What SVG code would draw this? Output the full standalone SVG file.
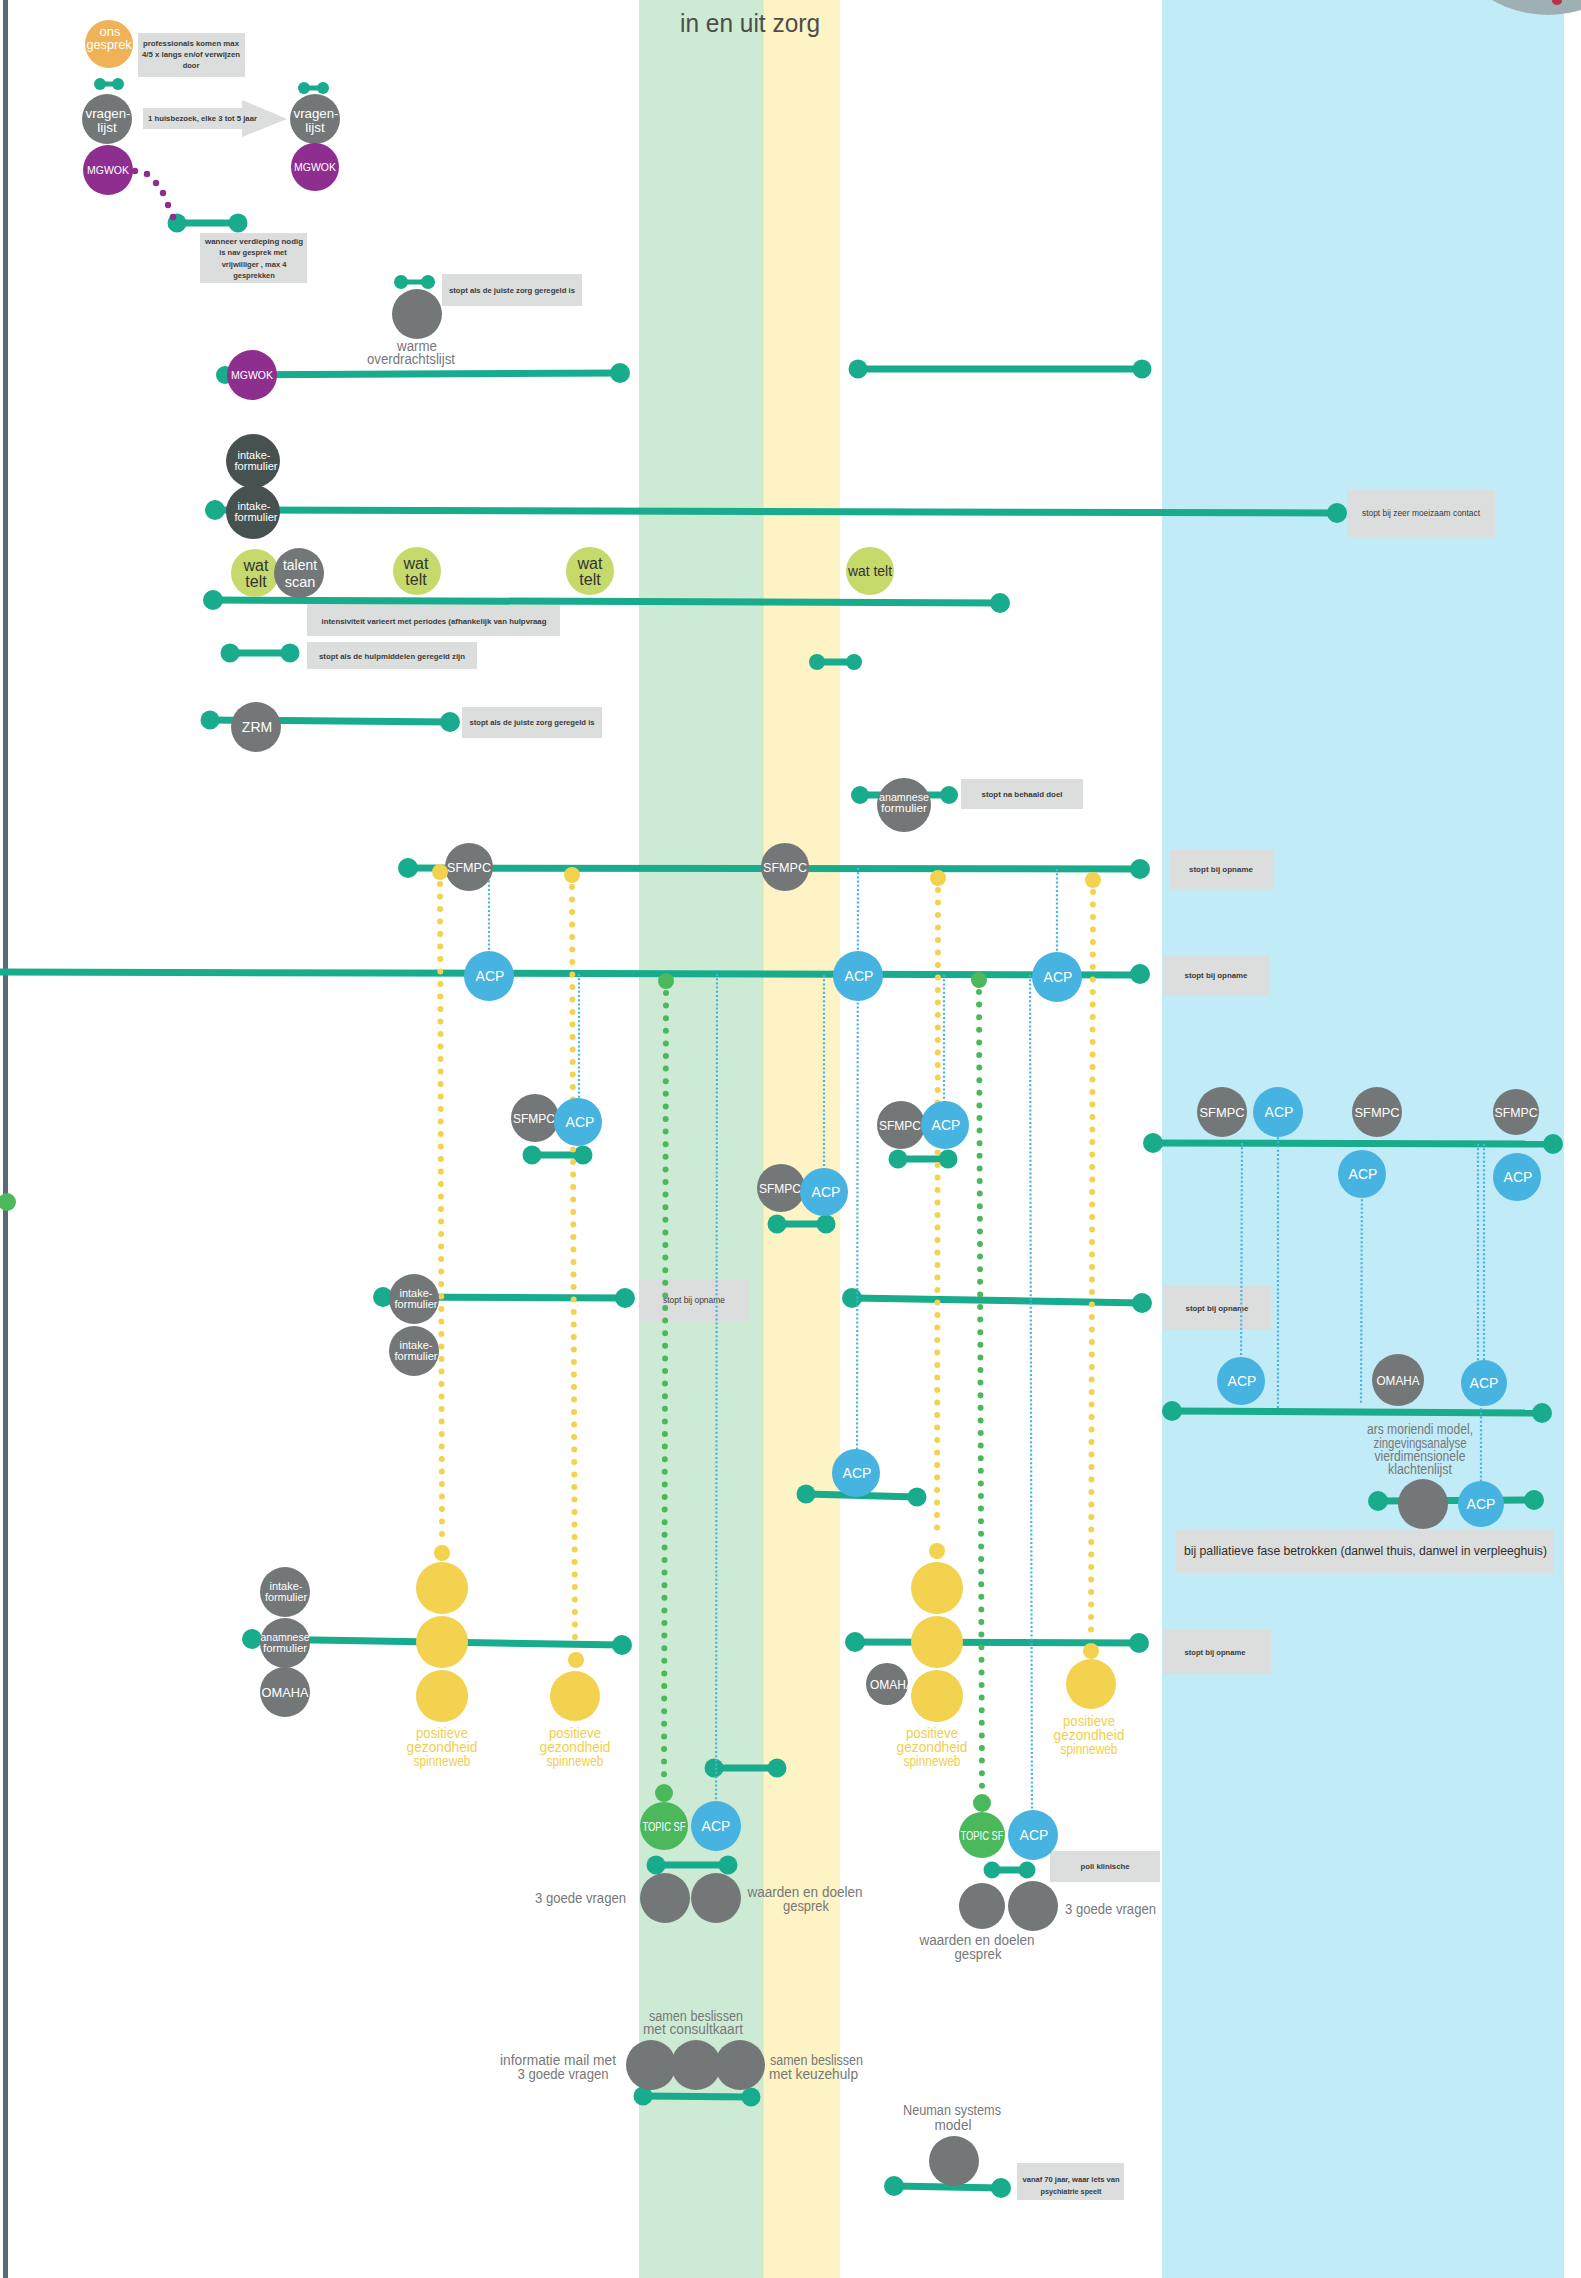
<svg xmlns="http://www.w3.org/2000/svg" width="1581" height="2278" viewBox="0 0 1581 2278">
<defs>
<style>
text{font-family:"Liberation Sans",Arial,sans-serif}
.w{fill:#fff;text-anchor:middle}
.bx{fill:#dcdddd}
.bt{fill:#3a3a3a;font-size:7.5px;font-weight:bold;text-anchor:middle}
.ot{fill:#3a3a3a;font-size:8.5px;text-anchor:middle}
.gl{fill:#767879;font-size:14px}
.yl{fill:#f2cf4a;font-size:14px;text-anchor:middle}
.g{fill:#737778}
.dk{fill:#475250}
.pu{fill:#8e2e8f}
.or{fill:#efb257}
.li{fill:#c6d96b}
.bl{fill:#47b3e0}
.gr{fill:#4cb85c}
.ye{fill:#f2d24f}
.tl{stroke:#18ab8c;stroke-width:7;fill:none}
.ts{stroke:#18ab8c;stroke-width:5;fill:none}
.td{fill:#18ab8c}
.yd{stroke:#f2d24f;stroke-width:6;stroke-linecap:round;stroke-dasharray:0 12.5;fill:none}
.gd{stroke:#4cb85c;stroke-width:6;stroke-linecap:round;stroke-dasharray:0 12.6;fill:none}
.bd{stroke:#47b3e0;stroke-width:2.2;stroke-dasharray:2 2.2;fill:none}
.sf{font-size:13px}
.ac{font-size:14px}
.it{font-size:11px}
</style>
</defs>
<!-- background -->
<rect x="0" y="0" width="1581" height="2278" fill="#fff"/>
<rect x="639" y="0" width="124" height="2278" fill="#cdebd4"/>
<rect x="763" y="0" width="77" height="2278" fill="#fdf3c5"/>
<line x1="763" y1="0" x2="763" y2="2278" stroke="#d6e6b8" stroke-width="1"/>
<rect x="1162" y="0" width="402" height="2278" fill="#c2ebf8"/>
<circle cx="1548" cy="-97" r="112" fill="#9fb0b5"/>
<ellipse cx="1557" cy="1" rx="5" ry="4" fill="#b8324a"/>
<rect x="3" y="0" width="5" height="2278" fill="#5a6a76"/>
<text x="750" y="32" font-size="26" fill="#4d4d4d" text-anchor="middle" textLength="140" lengthAdjust="spacingAndGlyphs">in en uit zorg</text>

<!-- annotation boxes -->
<g id="box-professionals">
<rect class="bx" x="138" y="33" width="107" height="44"/>
<text class="bt" x="191" y="46" textLength="96" lengthAdjust="spacingAndGlyphs">professionals komen max</text>
<text class="bt" x="191" y="57" textLength="98" lengthAdjust="spacingAndGlyphs">4/5 x langs en/of verwijzen</text>
<text class="bt" x="191" y="68">door</text>
</g>
<g id="arrow-huisbezoek">
<polygon class="bx" points="143,108 242,108 242,100 287,119 242,137 242,129 143,129"/>
<text class="bt" x="148" y="121" style="text-anchor:start" textLength="109" lengthAdjust="spacingAndGlyphs">1 huisbezoek, elke 3 tot 5 jaar</text>
</g>
<g id="box-verdieping">
<rect class="bx" x="200" y="233" width="107" height="50"/>
<text class="bt" x="254" y="244" textLength="98" lengthAdjust="spacingAndGlyphs">wanneer verdieping nodig</text>
<text class="bt" x="253" y="255">is nav gesprek met</text>
<text class="bt" x="254" y="267">vrijwilliger , max 4</text>
<text class="bt" x="254" y="278">gesprekken</text>
</g>
<g id="box-warme">
<rect class="bx" x="442" y="274" width="140" height="32"/>
<text class="bt" x="512" y="293" textLength="126" lengthAdjust="spacingAndGlyphs">stopt als de juiste zorg geregeld is</text>
</g>
<g id="box-moeizaam">
<rect class="bx" x="1347" y="490" width="148" height="47"/>
<text class="ot" x="1421" y="516" textLength="118" lengthAdjust="spacingAndGlyphs">stopt bij zeer moeizaam contact</text>
</g>
<g id="box-intensiviteit">
<rect class="bx" x="307" y="604" width="253" height="32"/>
<text class="bt" x="434" y="624" textLength="225" lengthAdjust="spacingAndGlyphs">intensiviteit varieert met periodes (afhankelijk van hulpvraag</text>
</g>
<g id="box-hulpmiddelen">
<rect class="bx" x="307" y="642" width="170" height="27"/>
<text class="bt" x="392" y="659" textLength="146" lengthAdjust="spacingAndGlyphs">stopt als de hulpmiddelen geregeld zijn</text>
</g>
<g id="box-zrm">
<rect class="bx" x="462" y="707" width="140" height="31"/>
<text class="bt" x="532" y="725" textLength="125" lengthAdjust="spacingAndGlyphs">stopt als de juiste zorg geregeld is</text>
</g>
<g id="box-doel">
<rect class="bx" x="961" y="779" width="122" height="30"/>
<text class="bt" x="1022" y="797" textLength="81" lengthAdjust="spacingAndGlyphs">stopt na behaald doel</text>
</g>
<g id="box-opname-1">
<rect class="bx" x="1170" y="850" width="104" height="39"/>
<text class="bt" x="1221" y="872" textLength="64" lengthAdjust="spacingAndGlyphs">stopt bij opname</text>
</g>
<g id="box-opname-2">
<rect class="bx" x="1163" y="955" width="107" height="40"/>
<text class="bt" x="1216" y="978" textLength="63" lengthAdjust="spacingAndGlyphs">stopt bij opname</text>
</g>
<g id="box-opname-3">
<rect class="bx" x="639" y="1279" width="110" height="42"/>
<text class="ot" x="663" y="1303" style="text-anchor:start" textLength="62" lengthAdjust="spacingAndGlyphs">stopt bij opname</text>
</g>
<g id="box-opname-4">
<rect class="bx" x="1163" y="1286" width="108" height="44"/>
<text class="bt" x="1217" y="1311" textLength="63" lengthAdjust="spacingAndGlyphs">stopt bij opname</text>
</g>
<g id="box-palliatief">
<rect class="bx" x="1176" y="1530" width="377" height="43"/>
<text x="1184" y="1555" font-size="12.5" fill="#2e2e2e" textLength="363" lengthAdjust="spacingAndGlyphs">bij palliatieve fase betrokken (danwel thuis, danwel in verpleeghuis)</text>
</g>
<g id="box-opname-5">
<rect class="bx" x="1163" y="1630" width="108" height="44"/>
<text class="bt" x="1215" y="1655" textLength="61" lengthAdjust="spacingAndGlyphs">stopt bij opname</text>
</g>
<g id="box-poli">
<rect class="bx" x="1050" y="1851" width="110" height="31"/>
<text class="bt" x="1105" y="1869" textLength="49" lengthAdjust="spacingAndGlyphs">poli klinische</text>
</g>
<g id="box-70jaar">
<rect class="bx" x="1017" y="2163" width="107" height="37"/>
<text class="bt" x="1071" y="2182" textLength="97" lengthAdjust="spacingAndGlyphs">vanaf 70 jaar, waar iets van</text>
<text class="bt" x="1071" y="2194" textLength="61" lengthAdjust="spacingAndGlyphs">psychiatrie speelt</text>
</g>

<!-- connectors -->
<g id="connectors">
<line class="ts" x1="100" y1="84" x2="118" y2="84"/><circle class="td" cx="100" cy="84" r="6"/><circle class="td" cx="118" cy="84" r="6"/>
<line class="ts" x1="304" y1="88" x2="323" y2="88"/><circle class="td" cx="304" cy="88" r="6"/><circle class="td" cx="323" cy="88" r="6"/>
<line class="tl" x1="177" y1="223" x2="238" y2="223"/><circle class="td" cx="177" cy="223" r="9.5"/><circle class="td" cx="238" cy="223" r="9.5"/>
<line class="ts" x1="401" y1="282" x2="428" y2="282"/><circle class="td" cx="401" cy="282" r="7"/><circle class="td" cx="428" cy="282" r="7"/>
<line class="tl" x1="225" y1="375" x2="620" y2="373"/><circle class="td" cx="225" cy="375" r="9"/><circle class="td" cx="620" cy="373" r="10"/>
<line class="tl" x1="858" y1="369" x2="1142" y2="369"/><circle class="td" cx="858" cy="369" r="9.5"/><circle class="td" cx="1142" cy="369" r="9.5"/>
<line class="tl" x1="215" y1="510" x2="1337" y2="513"/><circle class="td" cx="215" cy="510" r="10"/><circle class="td" cx="1337" cy="513" r="10"/>
<line class="tl" x1="213" y1="600" x2="1000" y2="603"/><circle class="td" cx="213" cy="600" r="10"/><circle class="td" cx="1000" cy="603" r="10"/>
<line class="tl" x1="230" y1="653" x2="290" y2="653"/><circle class="td" cx="230" cy="653" r="9.5"/><circle class="td" cx="290" cy="653" r="9.5"/>
<line class="tl" x1="817" y1="662" x2="854" y2="662"/><circle class="td" cx="817" cy="662" r="8"/><circle class="td" cx="854" cy="662" r="8"/>
<line class="tl" x1="210" y1="720" x2="450" y2="722"/><circle class="td" cx="210" cy="720" r="9.5"/><circle class="td" cx="450" cy="722" r="10"/>
<line class="tl" x1="860" y1="795" x2="949" y2="795"/><circle class="td" cx="860" cy="795" r="9"/><circle class="td" cx="949" cy="795" r="9"/>
<line class="tl" x1="408" y1="868" x2="1140" y2="869"/><circle class="td" cx="408" cy="868" r="10"/><circle class="td" cx="1140" cy="869" r="10"/>
<line class="tl" x1="0" y1="972" x2="1140" y2="975"/><circle class="td" cx="1140" cy="974" r="10"/>
<line class="tl" x1="1153" y1="1143" x2="1553" y2="1144"/><circle class="td" cx="1153" cy="1143" r="10"/><circle class="td" cx="1553" cy="1144" r="10"/>
<line class="tl" x1="532" y1="1155" x2="583" y2="1155"/><circle class="td" cx="532" cy="1155" r="9.5"/><circle class="td" cx="583" cy="1155" r="9.5"/>
<line class="tl" x1="777" y1="1224" x2="826" y2="1224"/><circle class="td" cx="777" cy="1224" r="9.5"/><circle class="td" cx="826" cy="1224" r="9.5"/>
<line class="tl" x1="898" y1="1159" x2="948" y2="1159"/><circle class="td" cx="898" cy="1159" r="9.5"/><circle class="td" cx="948" cy="1159" r="9.5"/>
<line class="tl" x1="383" y1="1297" x2="625" y2="1298"/><circle class="td" cx="383" cy="1297" r="10"/><circle class="td" cx="625" cy="1298" r="10"/>
<line class="tl" x1="852" y1="1298" x2="1142" y2="1303"/><circle class="td" cx="852" cy="1298" r="10"/><circle class="td" cx="1142" cy="1303" r="10"/>
<line class="tl" x1="1172" y1="1411" x2="1542" y2="1413"/><circle class="td" cx="1172" cy="1411" r="10"/><circle class="td" cx="1542" cy="1413" r="10"/>
<line class="tl" x1="806" y1="1494" x2="917" y2="1497"/><circle class="td" cx="806" cy="1494" r="9.5"/><circle class="td" cx="917" cy="1497" r="9.5"/>
<line class="tl" x1="1378" y1="1501" x2="1534" y2="1500"/><circle class="td" cx="1378" cy="1501" r="10"/><circle class="td" cx="1534" cy="1500" r="10"/>
<line class="tl" x1="252" y1="1639" x2="622" y2="1645"/><circle class="td" cx="252" cy="1639" r="10"/><circle class="td" cx="622" cy="1645" r="10"/>
<line class="tl" x1="855" y1="1642" x2="1139" y2="1643"/><circle class="td" cx="855" cy="1642" r="10"/><circle class="td" cx="1139" cy="1643" r="10"/>
<line class="tl" x1="714" y1="1768" x2="777" y2="1768"/><circle class="td" cx="714" cy="1768" r="9.5"/><circle class="td" cx="777" cy="1768" r="9.5"/>
<line class="tl" x1="656" y1="1865" x2="728" y2="1865"/><circle class="td" cx="656" cy="1865" r="9.5"/><circle class="td" cx="728" cy="1865" r="9.5"/>
<line class="tl" x1="992" y1="1870" x2="1027" y2="1870"/><circle class="td" cx="992" cy="1870" r="8.5"/><circle class="td" cx="1027" cy="1870" r="8.5"/>
<line class="tl" x1="643" y1="2096" x2="751" y2="2097"/><circle class="td" cx="643" cy="2096" r="9.5"/><circle class="td" cx="751" cy="2097" r="9.5"/>
<line class="tl" x1="894" y1="2186" x2="1001" y2="2188"/><circle class="td" cx="894" cy="2186" r="10"/><circle class="td" cx="1001" cy="2188" r="10"/>
<!-- blue dotted links -->
<line class="bd" x1="489" y1="868" x2="489" y2="976"/>
<line class="bd" x1="858" y1="868" x2="857" y2="1473"/>
<line class="bd" x1="1057" y1="869" x2="1057" y2="977"/>
<line class="bd" x1="579" y1="974" x2="579" y2="1122"/>
<line class="bd" x1="717" y1="974" x2="716" y2="1826"/>
<line class="bd" x1="824" y1="975" x2="824" y2="1192"/>
<line class="bd" x1="944" y1="975" x2="944" y2="1125"/>
<line class="bd" x1="1030" y1="975" x2="1032" y2="1835"/>
<line class="bd" x1="1242" y1="1143" x2="1241" y2="1381"/>
<line class="bd" x1="1278" y1="1112" x2="1278" y2="1408"/>
<line class="bd" x1="1362" y1="1174" x2="1361" y2="1404"/>
<line class="bd" x1="1478" y1="1144" x2="1478" y2="1383"/>
<line class="bd" x1="1484" y1="1144" x2="1484" y2="1383"/>
<line class="bd" x1="1481" y1="1383" x2="1481" y2="1504"/>
<!-- yellow / green dotted tracks -->
<line class="yd" x1="440" y1="884" x2="442" y2="1541"/>
<line class="yd" x1="572" y1="887" x2="575" y2="1647"/>
<line class="yd" x1="938" y1="890" x2="937" y2="1539"/>
<line class="yd" x1="1093" y1="892" x2="1091" y2="1638"/>
<line class="gd" x1="666" y1="993" x2="664" y2="1781"/>
<line class="gd" x1="979" y1="992" x2="982" y2="1791"/>
<!-- purple dots -->
<g class="pu"><circle cx="135" cy="171" r="3.2"/><circle cx="147" cy="174" r="3.2"/><circle cx="156" cy="183" r="3.2"/><circle cx="163" cy="193" r="3.2"/><circle cx="168" cy="205" r="3.2"/><circle cx="173" cy="217" r="3.2"/></g>
</g>

<!-- nodes -->
<g id="n-ons-gesprek"><circle class="or" cx="109" cy="44" r="24"/><text class="w" font-size="13" x="110" y="36">ons</text><text class="w" font-size="13" x="109" y="49" textLength="45" lengthAdjust="spacingAndGlyphs">gesprek</text></g>
<g id="n-vragenlijst-1"><circle class="g" cx="107" cy="119" r="25"/><text class="w" font-size="13.5" x="108" y="118" textLength="45" lengthAdjust="spacingAndGlyphs">vragen-</text><text class="w" font-size="13.5" x="107" y="131.5">lijst</text></g>
<g id="n-mgwok-1"><circle class="pu" cx="108" cy="170" r="25"/><text class="w" font-size="11.5" x="108" y="174" textLength="42" lengthAdjust="spacingAndGlyphs">MGWOK</text></g>
<g id="n-vragenlijst-2"><circle class="g" cx="315" cy="119" r="25"/><text class="w" font-size="13.5" x="316" y="118" textLength="45" lengthAdjust="spacingAndGlyphs">vragen-</text><text class="w" font-size="13.5" x="315" y="131.5">lijst</text></g>
<g id="n-mgwok-2"><circle class="pu" cx="315" cy="167" r="24"/><text class="w" font-size="11.5" x="315" y="171" textLength="42" lengthAdjust="spacingAndGlyphs">MGWOK</text></g>
<g id="n-warme"><circle class="g" cx="417" cy="314" r="25"/><text class="gl" font-size="12.5" x="417" y="351" text-anchor="middle" textLength="40" lengthAdjust="spacingAndGlyphs">warme</text><text class="gl" font-size="12.5" x="411" y="364" text-anchor="middle" textLength="88" lengthAdjust="spacingAndGlyphs">overdrachtslijst</text></g>
<g id="n-mgwok-3"><circle class="pu" cx="252" cy="375" r="25"/><text class="w" font-size="11.5" x="252" y="379" textLength="42" lengthAdjust="spacingAndGlyphs">MGWOK</text></g>
<g id="n-intake-dark-1"><circle class="dk" cx="253" cy="461" r="27"/><text class="w it" x="254" y="459">intake-</text><text class="w it" x="256" y="470" textLength="43" lengthAdjust="spacingAndGlyphs">formulier</text></g>
<g id="n-intake-dark-2"><circle class="dk" cx="253" cy="512" r="27"/><text class="w it" x="254" y="510">intake-</text><text class="w it" x="256" y="521" textLength="43" lengthAdjust="spacingAndGlyphs">formulier</text></g>
<g id="n-wattelt-1"><circle class="li" cx="255" cy="573" r="24"/><text x="256" y="571" font-size="16" fill="#333" text-anchor="middle">wat</text><text x="256" y="587" font-size="16" fill="#333" text-anchor="middle">telt</text></g>
<g id="n-talentscan"><circle class="g" cx="299" cy="573" r="25"/><text class="w" font-size="14.5" x="300" y="570" textLength="34" lengthAdjust="spacingAndGlyphs">talent</text><text class="w" font-size="14.5" x="300" y="587">scan</text></g>
<g id="n-wattelt-2"><circle class="li" cx="417" cy="571" r="24"/><text x="416" y="569" font-size="16" fill="#333" text-anchor="middle">wat</text><text x="416" y="585" font-size="16" fill="#333" text-anchor="middle">telt</text></g>
<g id="n-wattelt-3"><circle class="li" cx="590" cy="571" r="24"/><text x="590" y="569" font-size="16" fill="#333" text-anchor="middle">wat</text><text x="590" y="585" font-size="16" fill="#333" text-anchor="middle">telt</text></g>
<g id="n-wattelt-4"><circle class="li" cx="870" cy="571" r="24"/><text x="870" y="576" font-size="14" fill="#333" text-anchor="middle" textLength="44" lengthAdjust="spacingAndGlyphs">wat telt</text></g>
<g id="n-zrm"><circle class="g" cx="256" cy="727" r="25"/><text class="w" font-size="14" x="257" y="732">ZRM</text></g>
<g id="n-anamnese-1"><circle class="g" cx="904" cy="805" r="27"/><text class="w it" x="904" y="801" textLength="50" lengthAdjust="spacingAndGlyphs">anamnese</text><text class="w it" x="904" y="812" textLength="46" lengthAdjust="spacingAndGlyphs">formulier</text></g>
<g id="n-sfmpc-1"><circle class="g" cx="469" cy="867" r="24"/><text class="w sf" x="469" y="872" textLength="44" lengthAdjust="spacingAndGlyphs">SFMPC</text></g>
<g id="n-sfmpc-2"><circle class="g" cx="785" cy="867" r="24"/><text class="w sf" x="785" y="872" textLength="44" lengthAdjust="spacingAndGlyphs">SFMPC</text></g>
<g id="n-acp-1"><circle class="bl" cx="489" cy="976" r="25"/><text class="w ac" x="490" y="981">ACP</text></g>
<g id="n-acp-2"><circle class="bl" cx="858" cy="976" r="25"/><text class="w ac" x="859" y="981">ACP</text></g>
<g id="n-acp-3"><circle class="bl" cx="1057" cy="977" r="25"/><text class="w ac" x="1058" y="982">ACP</text></g>
<g id="n-sfmpc-acp-a"><circle class="g" cx="535" cy="1118" r="24"/><text class="w sf" x="534" y="1123" textLength="42" lengthAdjust="spacingAndGlyphs">SFMPC</text><circle class="bl" cx="578" cy="1122" r="24"/><text class="w ac" x="580" y="1127">ACP</text></g>
<g id="n-sfmpc-acp-b"><circle class="g" cx="781" cy="1188" r="24"/><text class="w sf" x="780" y="1193" textLength="42" lengthAdjust="spacingAndGlyphs">SFMPC</text><circle class="bl" cx="824" cy="1192" r="24"/><text class="w ac" x="826" y="1197">ACP</text></g>
<g id="n-sfmpc-acp-c"><circle class="g" cx="901" cy="1125" r="24"/><text class="w sf" x="900" y="1130" textLength="42" lengthAdjust="spacingAndGlyphs">SFMPC</text><circle class="bl" cx="945" cy="1125" r="24"/><text class="w ac" x="946" y="1130">ACP</text></g>
<g id="n-right-sfmpc-1"><circle class="g" cx="1222" cy="1112" r="25"/><text class="w sf" x="1222" y="1117" textLength="45" lengthAdjust="spacingAndGlyphs">SFMPC</text></g>
<g id="n-right-acp-1"><circle class="bl" cx="1278" cy="1112" r="25"/><text class="w ac" x="1279" y="1117">ACP</text></g>
<g id="n-right-sfmpc-2"><circle class="g" cx="1377" cy="1112" r="25"/><text class="w sf" x="1377" y="1117" textLength="45" lengthAdjust="spacingAndGlyphs">SFMPC</text></g>
<g id="n-right-sfmpc-3"><circle class="g" cx="1516" cy="1112" r="23"/><text class="w sf" x="1516" y="1117" textLength="43" lengthAdjust="spacingAndGlyphs">SFMPC</text></g>
<g id="n-right-acp-2"><circle class="bl" cx="1362" cy="1174" r="24"/><text class="w ac" x="1363" y="1179">ACP</text></g>
<g id="n-right-acp-3"><circle class="bl" cx="1517" cy="1177" r="24"/><text class="w ac" x="1518" y="1182">ACP</text></g>
<g id="n-intake-1"><circle class="g" cx="414" cy="1299" r="25"/><text class="w it" x="416" y="1297">intake-</text><text class="w it" x="416" y="1308" textLength="43" lengthAdjust="spacingAndGlyphs">formulier</text></g>
<g id="n-intake-2"><circle class="g" cx="414" cy="1351" r="25"/><text class="w it" x="416" y="1349">intake-</text><text class="w it" x="416" y="1360" textLength="43" lengthAdjust="spacingAndGlyphs">formulier</text></g>
<g id="n-acp-r4"><circle class="bl" cx="1241" cy="1381" r="24"/><text class="w ac" x="1242" y="1386">ACP</text></g>
<g id="n-omaha-r"><circle class="g" cx="1398" cy="1380" r="26"/><text class="w sf" x="1398" y="1385" textLength="43" lengthAdjust="spacingAndGlyphs">OMAHA</text></g>
<g id="n-acp-r5"><circle class="bl" cx="1484" cy="1383" r="23"/><text class="w ac" x="1484" y="1388">ACP</text></g>
<g id="n-arsmoriendi"><text class="gl" font-size="13" x="1420" y="1434" text-anchor="middle" textLength="106" lengthAdjust="spacingAndGlyphs">ars moriendi model,</text><text class="gl" font-size="13" x="1420" y="1448" text-anchor="middle" textLength="93" lengthAdjust="spacingAndGlyphs">zingevingsanalyse</text><text class="gl" font-size="13" x="1420" y="1461" text-anchor="middle" textLength="91" lengthAdjust="spacingAndGlyphs">vierdimensionele</text><text class="gl" font-size="13" x="1420" y="1474" text-anchor="middle" textLength="64" lengthAdjust="spacingAndGlyphs">klachtenlijst</text></g>
<g id="n-acp-low"><circle class="bl" cx="856" cy="1473" r="24"/><text class="w ac" x="857" y="1478">ACP</text></g>
<g id="n-palliatief-gray"><circle class="g" cx="1423" cy="1504" r="25"/></g>
<g id="n-palliatief-acp"><circle class="bl" cx="1481" cy="1504" r="23"/><text class="w ac" x="1481" y="1509">ACP</text></g>
<g id="n-intake-3"><circle class="g" cx="285" cy="1592" r="25"/><text class="w it" x="286" y="1590">intake-</text><text class="w it" x="286" y="1601" textLength="42" lengthAdjust="spacingAndGlyphs">formulier</text></g>
<g id="n-anamnese-2"><circle class="g" cx="285" cy="1643" r="25"/><text class="w it" x="285" y="1641" textLength="49" lengthAdjust="spacingAndGlyphs">anamnese</text><text class="w it" x="285" y="1652" textLength="44" lengthAdjust="spacingAndGlyphs">formulier</text></g>
<g id="n-omaha-1"><circle class="g" cx="285" cy="1692" r="25"/><text class="w sf" x="285" y="1697" textLength="47" lengthAdjust="spacingAndGlyphs">OMAHA</text></g>
<g id="n-omaha-2"><circle class="g" cx="887" cy="1684" r="21"/><text class="w sf" x="892" y="1689" textLength="44" lengthAdjust="spacingAndGlyphs">OMAHA</text></g>
<g id="n-topic-1"><circle class="gr" cx="664" cy="1826" r="24"/><text class="w" font-size="13" x="664" y="1831" textLength="43" lengthAdjust="spacingAndGlyphs">TOPIC SF</text><circle class="bl" cx="716" cy="1826" r="25"/><text class="w ac" x="716" y="1831">ACP</text></g>
<g id="n-3goede-1"><circle class="g" cx="665" cy="1898" r="25"/><circle class="g" cx="716" cy="1898" r="25"/><text class="gl" x="626" y="1903" text-anchor="end" textLength="91" lengthAdjust="spacingAndGlyphs">3 goede vragen</text><text class="gl" x="805" y="1897" text-anchor="middle" textLength="115" lengthAdjust="spacingAndGlyphs">waarden en doelen</text><text class="gl" x="806" y="1911" text-anchor="middle" textLength="46" lengthAdjust="spacingAndGlyphs">gesprek</text></g>
<g id="n-topic-2"><circle class="gr" cx="982" cy="1835" r="23"/><text class="w" font-size="13" x="982" y="1840" textLength="43" lengthAdjust="spacingAndGlyphs">TOPIC SF</text><circle class="bl" cx="1033" cy="1835" r="25"/><text class="w ac" x="1034" y="1840">ACP</text></g>
<g id="n-3goede-2"><circle class="g" cx="982" cy="1906" r="23"/><circle class="g" cx="1033" cy="1906" r="25"/><text class="gl" x="1065" y="1914" textLength="91" lengthAdjust="spacingAndGlyphs">3 goede vragen</text><text class="gl" x="977" y="1945" text-anchor="middle" textLength="115" lengthAdjust="spacingAndGlyphs">waarden en doelen</text><text class="gl" x="978" y="1959" text-anchor="middle" textLength="47" lengthAdjust="spacingAndGlyphs">gesprek</text></g>
<g id="n-samen"><text class="gl" font-size="12.5" x="696" y="2021" text-anchor="middle" textLength="94" lengthAdjust="spacingAndGlyphs">samen beslissen</text><text class="gl" font-size="12.5" x="693" y="2034" text-anchor="middle" textLength="100" lengthAdjust="spacingAndGlyphs">met consultkaart</text><circle class="g" cx="651" cy="2065" r="25"/><circle class="g" cx="696" cy="2065" r="25"/><circle class="g" cx="740" cy="2065" r="25"/><text class="gl" x="558" y="2065" text-anchor="middle" textLength="116" lengthAdjust="spacingAndGlyphs">informatie mail met</text><text class="gl" x="563" y="2079" text-anchor="middle" textLength="91" lengthAdjust="spacingAndGlyphs">3 goede vragen</text><text class="gl" x="770" y="2065" textLength="93" lengthAdjust="spacingAndGlyphs">samen beslissen</text><text class="gl" x="769" y="2079" textLength="89" lengthAdjust="spacingAndGlyphs">met keuzehulp</text></g>
<g id="n-neuman"><text class="gl" x="952" y="2115" text-anchor="middle" textLength="98" lengthAdjust="spacingAndGlyphs">Neuman systems</text><text class="gl" x="953" y="2130" text-anchor="middle" textLength="37" lengthAdjust="spacingAndGlyphs">model</text><circle class="g" cx="954" cy="2161" r="25"/></g>

<!-- yellow spinneweb nodes -->
<g id="n-spinneweb-1"><circle class="ye" cx="442" cy="1553" r="8"/><circle class="ye" cx="442" cy="1588" r="26"/><circle class="ye" cx="442" cy="1642" r="26"/><circle class="ye" cx="442" cy="1696" r="26"/><text class="yl" x="442" y="1738" textLength="52" lengthAdjust="spacingAndGlyphs">positieve</text><text class="yl" x="442" y="1752" textLength="71" lengthAdjust="spacingAndGlyphs">gezondheid</text><text class="yl" x="442" y="1766" textLength="57" lengthAdjust="spacingAndGlyphs">spinneweb</text></g>
<g id="n-spinneweb-2"><circle class="ye" cx="576" cy="1660" r="8"/><circle class="ye" cx="575" cy="1696" r="25"/><text class="yl" x="575" y="1738" textLength="52" lengthAdjust="spacingAndGlyphs">positieve</text><text class="yl" x="575" y="1752" textLength="71" lengthAdjust="spacingAndGlyphs">gezondheid</text><text class="yl" x="575" y="1766" textLength="57" lengthAdjust="spacingAndGlyphs">spinneweb</text></g>
<g id="n-spinneweb-3"><circle class="ye" cx="937" cy="1551" r="8"/><circle class="ye" cx="937" cy="1588" r="26"/><circle class="ye" cx="937" cy="1642" r="26"/><circle class="ye" cx="937" cy="1696" r="26"/><text class="yl" x="932" y="1738" textLength="52" lengthAdjust="spacingAndGlyphs">positieve</text><text class="yl" x="932" y="1752" textLength="71" lengthAdjust="spacingAndGlyphs">gezondheid</text><text class="yl" x="932" y="1766" textLength="57" lengthAdjust="spacingAndGlyphs">spinneweb</text></g>
<g id="n-spinneweb-4"><circle class="ye" cx="1091" cy="1651" r="8"/><circle class="ye" cx="1091" cy="1684" r="25"/><text class="yl" x="1089" y="1726" textLength="52" lengthAdjust="spacingAndGlyphs">positieve</text><text class="yl" x="1089" y="1740" textLength="71" lengthAdjust="spacingAndGlyphs">gezondheid</text><text class="yl" x="1089" y="1754" textLength="57" lengthAdjust="spacingAndGlyphs">spinneweb</text></g>

<!-- pin heads on top -->
<g id="pins">
<circle class="ye" cx="440" cy="872" r="8"/>
<circle class="ye" cx="572" cy="875" r="8"/>
<circle class="ye" cx="938" cy="878" r="8"/>
<circle class="ye" cx="1093" cy="880" r="8"/>
<circle class="gr" cx="666" cy="981" r="8"/>
<circle class="gr" cx="979" cy="980" r="8"/>
<circle class="gr" cx="664" cy="1793" r="9"/>
<circle class="gr" cx="982" cy="1803" r="9"/>
<circle class="gr" cx="7" cy="1202" r="9"/>
</g>
</svg>
